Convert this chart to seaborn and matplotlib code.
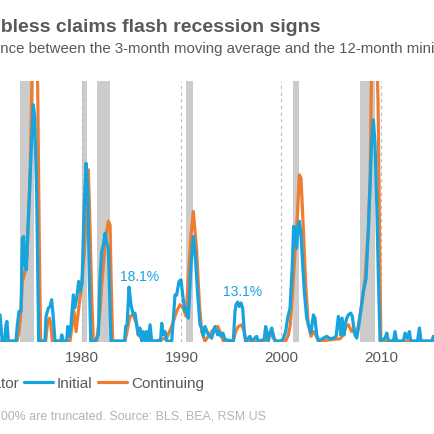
import matplotlib
matplotlib.use("Agg")
import matplotlib.pyplot as plt
from matplotlib.lines import Line2D
from matplotlib.patches import Patch
import seaborn as sns
import pandas as pd

# ---------------- data ----------------
initial_years = [1971.80, 1971.95, 1972.02, 1972.27, 1972.40, 1972.50, 1972.64, 1973.40, 1973.54, 1973.71,
                 1973.91, 1974.04, 1974.17, 1974.31, 1974.44, 1974.81, 1975.14, 1975.28, 1975.48, 1975.68,
                 1976.31, 1976.42, 1976.65, 1976.82, 1976.98, 1977.15, 1977.32, 1977.90, 1977.99, 1978.15,
                 1978.49, 1978.59, 1978.76, 1978.92, 1979.16, 1979.29, 1979.49, 1979.69, 1979.83, 1980.03,
                 1980.23, 1980.43, 1980.60, 1980.73, 1980.90, 1981.33, 1981.67, 1981.83, 1982.00, 1982.17,
                 1982.34, 1982.50, 1982.67, 1982.84, 1982.94, 1984.30, 1984.40, 1984.55, 1984.74, 1984.94,
                 1985.17, 1985.34, 1985.51, 1985.67, 1985.84, 1986.01, 1986.18, 1986.34, 1986.51, 1986.68,
                 1986.85, 1987.01, 1987.90, 1988.02, 1988.18, 1988.35, 1988.52, 1989.02, 1989.19, 1989.35,
                 1989.52, 1989.75, 1989.96, 1990.12, 1990.36, 1990.52, 1990.69, 1990.96, 1991.19, 1991.36,
                 1991.63, 1991.86, 1992.03, 1992.20, 1992.36, 1992.70, 1993.03, 1993.36, 1993.63, 1993.76,
                 1993.96, 1994.16, 1994.36, 1995.20, 1995.37, 1995.47, 1995.63, 1995.80, 1995.97, 1996.14,
                 1996.30, 1996.44, 1996.87, 1997.04, 1997.54, 1997.70, 1998.30, 1998.44, 1998.57, 1998.71,
                 1998.88, 1999.05, 1999.21, 1999.38, 2000.00, 2000.22, 2000.45, 2000.65, 2000.89, 2001.12,
                 2001.25, 2001.39, 2001.55, 2001.72, 2001.82, 2001.99, 2002.12, 2002.32, 2002.56, 2002.79,
                 2002.99, 2003.23, 2003.39, 2003.56, 2003.79, 2004.23, 2004.57, 2004.90, 2005.24, 2005.51,
                 2005.74, 2005.91, 2005.97, 2006.11, 2006.31, 2006.41, 2006.58, 2006.74, 2006.98, 2007.14,
                 2007.24, 2007.41, 2007.58, 2007.75, 2007.98, 2008.25, 2008.52, 2008.75, 2008.92, 2009.08,
                 2009.25, 2009.42, 2009.59, 2009.75, 2009.92, 2010.42, 2010.59, 2010.76, 2011.26, 2011.42,
                 2011.59, 2012.26, 2012.43, 2012.66, 2012.86, 2013.00, 2013.67, 2013.87, 2014.03, 2015.10,
                 2015.27, 2015.44]
initial_values = [8.8, 3.0, 0.0, 0.0, 5.5, 6.6, 0.0, 0.0, 5.5, 10.0,
                  10.0, 34.6, 35.1, 25.6, 23.9, 54.7, 79.3, 74.8, 49.1, 0.0,
                  0.0, 8.3, 11.1, 11.6, 13.9, 7.7, 0.0, 0.0, 2.1, 0.0,
                  0.0, 4.9, 1.6, 5.5, 15.5, 11.1, 14.4, 20.0, 16.7, 19.5,
                  43.5, 59.7, 51.0, 25.6, 0.0, 0.0, 2.1, 21.1, 30.1, 32.3,
                  36.2, 32.9, 31.2, 10.0, 0.0, 0.0, 4.9, 5.5, 18.1, 12.2,
                  8.8, 9.4, 5.5, 2.1, 4.4, 0.0, 3.2, 0.0, 3.2, 0.0,
                  5.5, 0.0, 0.0, 6.0, 2.1, 3.2, 0.0, 0.0, 7.7, 15.5,
                  15.5, 20.0, 20.6, 15.5, 10.0, 11.1, 7.7, 25.6, 35.1, 30.1,
                  15.5, 5.5, 4.4, 1.6, 4.9, 2.1, 1.0, 4.9, 2.1, 3.2,
                  1.6, 2.7, 0.5, 0.0, 10.0, 12.2, 13.1, 11.6, 12.8, 11.1,
                  3.2, 0.0, 1.6, 0.0, 1.6, 0.0, 0.5, 4.9, 3.2, 0.0,
                  2.7, 4.4, 2.1, 0.0, 0.0, 1.0, 3.2, 7.7, 11.1, 25.6,
                  38.5, 37.9, 31.2, 39.0, 40.2, 35.7, 27.9, 16.7, 7.7, 4.9,
                  2.7, 8.8, 7.7, 2.1, 0.0, 1.0, 1.6, 0.8, 1.0, 1.6,
                  8.3, 4.9, 2.1, 7.7, 2.1, 5.5, 7.7, 8.8, 9.4, 8.3,
                  5.5, 2.1, 1.0, 4.4, 10.0, 16.7, 21.1, 37.9, 52.5, 67.0,
                  74.3, 65.9, 45.7, 21.1, 0.0, 1.0, 2.7, 0.0, 0.0, 3.2,
                  0.0, 0.0, 2.7, 1.0, 3.2, 0.0, 0.0, 4.4, 0.0, 0.0,
                  1.6, 0.0]

continuing_years = [1971.80, 1973.50, 1973.70, 1973.85, 1974.05, 1974.30, 1974.50, 1974.81, 1975.00, 1975.20,
                    1975.45, 1975.58, 1975.75, 1975.88, 1976.38, 1976.55, 1976.75, 1976.88, 1977.05, 1978.82,
                    1979.22, 1979.43, 1979.66, 1979.99, 1980.23, 1980.50, 1980.66, 1980.83, 1980.99, 1981.16,
                    1981.50, 1981.83, 1982.00, 1982.23, 1982.44, 1982.67, 1982.84, 1982.94, 1983.10, 1984.34,
                    1984.60, 1984.84, 1985.17, 1985.51, 1985.67, 1986.01, 1987.35, 1988.52, 1989.02, 1989.52,
                    1989.86, 1990.19, 1990.46, 1990.69, 1990.96, 1991.19, 1991.53, 1991.80, 1992.03, 1992.36,
                    1993.03, 1993.36, 1993.63, 1993.86, 1994.20, 1995.20, 1995.43, 1995.70, 1996.04, 1996.30,
                    1996.44, 1998.38, 1998.71, 1998.98, 1999.21, 1999.45, 2000.45, 2000.72, 2000.92, 2001.15,
                    2001.39, 2001.65, 2001.82, 2001.99, 2002.22, 2002.46, 2002.72, 2002.99, 2003.23, 2003.46,
                    2003.73, 2005.91, 2006.24, 2006.51, 2006.74, 2007.08, 2007.24, 2007.51, 2007.75, 2008.08,
                    2008.42, 2008.75, 2008.92, 2009.08, 2009.30, 2009.55, 2009.72, 2009.85, 2010.00, 2015.44]
continuing_values = [0.0, 0.0, 3.0, 8.0, 20.0, 23.0, 28.0, 54.0, 88.0, 100.0,
                     100.0, 85.0, 30.0, 0.0, 0.0, 5.5, 7.7, 6.0, 0.0, 0.0,
                     10.0, 3.2, 10.0, 18.9, 29.0, 43.5, 57.5, 38.0, 15.5, 0.0,
                     0.0, 10.0, 18.9, 27.9, 35.7, 40.2, 39.0, 21.1, 0.0, 0.0,
                     4.4, 8.3, 8.8, 5.5, 2.1, 1.0, 0.0, 1.0, 4.9, 10.0,
                     12.2, 11.1, 8.3, 21.1, 35.7, 43.5, 30.1, 12.2, 3.2, 0.0,
                     3.2, 4.4, 4.9, 3.2, 0.0, 0.0, 3.2, 4.9, 5.5, 3.2,
                     0.0, 0.0, 1.6, 2.7, 1.0, 0.0, 0.0, 2.1, 5.5, 16.7,
                     30.1, 43.5, 55.8, 54.7, 37.9, 18.9, 5.5, 1.6, 3.2, 2.1,
                     0.0, 0.8, 2.1, 4.9, 5.5, 3.2, 3.8, 1.6, 5.5, 12.2,
                     21.1, 37.9, 54.7, 95.0, 100.0, 100.0, 80.0, 40.0, 0.0, 0.0]

recession_starts = [1973.83, 1980.00, 1981.50, 1990.50, 2001.17, 2007.92]
recession_ends = [1975.17, 1980.50, 1982.83, 1991.17, 2001.83, 2009.42]

decade_ticks = [1980, 1990, 2000, 2010]
decade_labels = ["1980", "1990", "2000", "2010"]

annotations = [("18.1%", 1985.84, 21.9), ("13.1%", 1996.14, 16.7)]

title = "Jobless claims flash recession signs"
subtitle = "Difference between the 3-month moving average and the 12-month minimum"
caption = "Note: Values above 100% are truncated. Source: BLS, BEA, RSM US"

# ---------------- style ----------------
BLUE = "#17A3DE"
ORANGE = "#EE7D31"
BAND = "#CCCCCC"
TEXT = "#595959"
LIGHT = "#B3B3B3"

sns.set_theme(style="white")
plt.rcParams["font.family"] = ["Liberation Sans", "DejaVu Sans"]

W = H = 435
fig = plt.figure(figsize=(4.35, 4.35), dpi=100)
ax = fig.add_axes([0, 1 - 343 / H, 1, (343 - 81.7) / H])

for s, e in zip(recession_starts, recession_ends):
    ax.axvspan(s, e, color=BAND, lw=0, zorder=0)

df_i = pd.DataFrame({"year": initial_years, "value": initial_values})
df_c = pd.DataFrame({"year": continuing_years, "value": continuing_values})
sns.lineplot(data=df_c, x="year", y="value", color=ORANGE, lw=2.3, ax=ax, zorder=3)
sns.lineplot(data=df_i, x="year", y="value", color=BLUE, lw=2.3, ax=ax, zorder=4)

for txt, x, y in annotations:
    ax.text(x, y, txt, color=BLUE, fontsize=10, ha="center", va="center", zorder=5)

ax.set_xlim(1971.8, 2015.43)
ax.set_ylim(-0.3, 87.4)
ax.set_xticks(decade_ticks)
ax.set_xticklabels(decade_labels)
ax.set_yticks([])
ax.set_xlabel("")
ax.set_ylabel("")
ax.tick_params(axis="x", length=0, pad=6, labelsize=11, labelcolor=TEXT)
ax.grid(axis="x", color="#BBBBBB", lw=0.8, ls=(0, (3, 3)), zorder=1)
ax.set_axisbelow(True)
for sp in ax.spines.values():
    sp.set_visible(False)

fig.text(-22 / W, 1 - 32.5 / H, title, fontsize=14, fontweight="bold", color=TEXT,
         ha="left", va="baseline")
fig.text(-44 / W, 1 - 53.5 / H, subtitle, fontsize=10.8, color=TEXT, ha="left", va="baseline")
fig.text(-117 / W, 1 - 420 / H, caption, fontsize=8.9, color=LIGHT, ha="left", va="baseline")

handles = [Patch(facecolor=BAND, edgecolor="none"),
           Line2D([], [], color=BLUE, lw=2.3),
           Line2D([], [], color=ORANGE, lw=2.3)]
labels = ["Recession indicator", "Initial", "Continuing"]
leg = fig.legend(handles, labels, ncol=3, loc="center left",
                 bbox_to_anchor=(-147.5 / W, 1 - 384 / H), frameon=False,
                 fontsize=11, handlelength=1.9, handletextpad=0.26, columnspacing=0.36,
                 borderaxespad=0, borderpad=0)
for t in leg.get_texts():
    t.set_color(TEXT)

fig.savefig("out.png", dpi=100)
